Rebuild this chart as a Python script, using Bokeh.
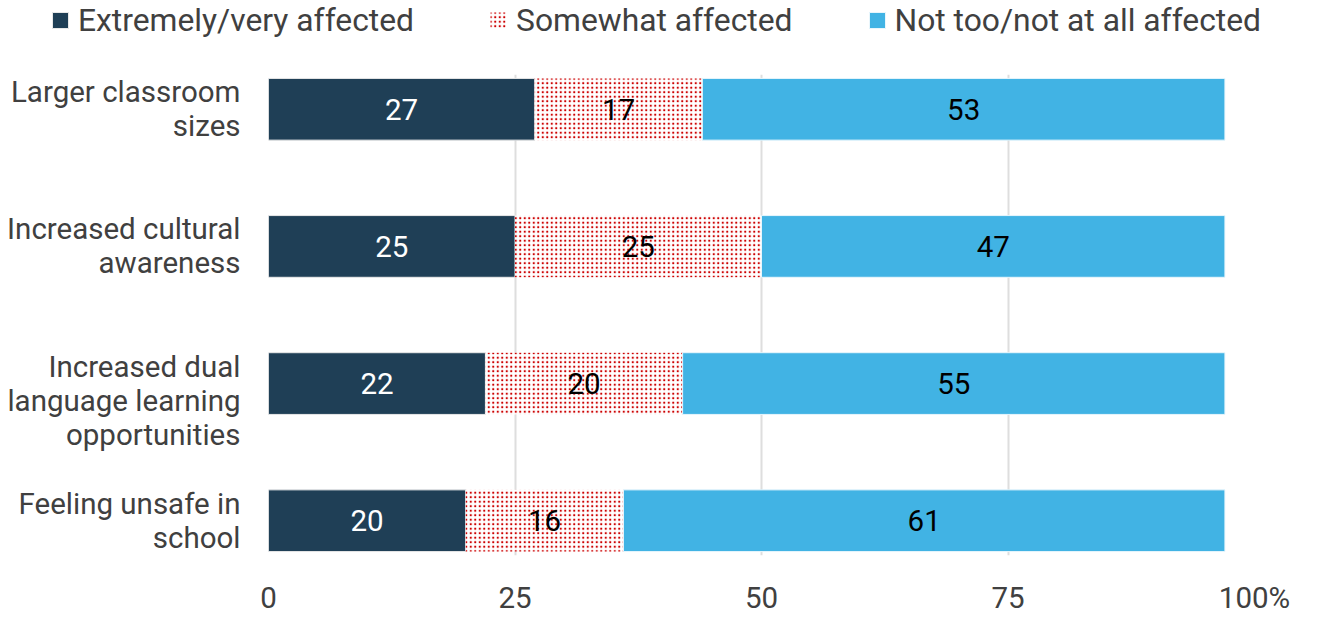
from bokeh.plotting import figure
from bokeh.models import Range1d, FixedTicker, Legend, LegendItem
from bokeh.core.properties import value
from bokeh.embed import file_html
from bokeh.resources import INLINE

categories = ["Larger classroom\nsizes", "Increased cultural\nawareness",
              "Increased dual\nlanguage learning\nopportunities", "Feeling unsafe in\nschool"]
extremely = [27, 25, 22, 20]
somewhat = [17, 25, 20, 16]
not_too = [53, 47, 55, 61]
series_names = ["Extremely/very affected", "Somewhat affected", "Not too/not at all affected"]
x_ticks = [0, 25, 50, 75, 100]
x_tick_labels = ["0", "25", "50", "75", "100%"]

FONT = "Roboto"
FS = "29.5px"
LFS = "31.8px"
DARK = "#1f3f56"
BLUE = "#41b3e4"
RED = "#cc0000"
GRAY = "#404040"

STYLES = [dict(fill_color=DARK, line_color="#e8e8e8", line_width=1),
          dict(fill_color="white", line_color=None, hatch_pattern="dot", hatch_color=RED,
               hatch_scale=4.5, hatch_weight=3),
          dict(fill_color=BLUE, line_color="#e8f6fc", line_width=1)]

n = len(categories)
ypos = [n - 1 - i for i in range(n)]

PAD = 0.2536
p = figure(width=1317, height=577, output_backend="svg", toolbar_location=None,
           x_range=Range1d(0, 100), y_range=Range1d(-PAD, n - 1 + PAD),
           min_border_left=268, min_border_top=34, min_border_right=63, min_border_bottom=56)
p.outline_line_color = None
p.background_fill_color = "white"

left1 = [0] * n
right1 = [a for a in extremely]
left2 = right1
right2 = [a + b for a, b in zip(extremely, somewhat)]
left3 = right2
right3 = [a + b + c for a, b, c in zip(extremely, somewhat, not_too)]

H = 0.45
p.hbar(y=ypos, left=left1, right=right1, height=H, **STYLES[0])
p.hbar(y=ypos, left=left2, right=right2, height=H, **STYLES[1])
p.hbar(y=ypos, left=left3, right=right3, height=H, **STYLES[2])

# data labels
lx, ly, lt, lc = [], [], [], []
for vals, ls, col in [(extremely, left1, "white"), (somewhat, left2, "black"), (not_too, left3, "black")]:
    for i in range(n):
        lx.append(ls[i] + vals[i] / 2)
        ly.append(ypos[i])
        lt.append(str(vals[i]))
        lc.append(col)
p.text(x=lx, y=ly, text=lt, text_color=lc, text_font=value(FONT), text_font_size=FS,
       text_align="center", text_baseline="middle")

# axes
p.xaxis.ticker = FixedTicker(ticks=x_ticks)
p.xaxis.major_label_overrides = {t: l for t, l in zip(x_ticks, x_tick_labels)}
p.xaxis.axis_line_color = None
p.xaxis.major_tick_line_color = None
p.xaxis.minor_tick_line_color = None
p.xaxis.major_tick_out = 0
p.xaxis.major_label_standoff = 25
p.xaxis.major_label_text_font = FONT
p.xaxis.major_label_text_font_size = FS
p.xaxis.major_label_text_color = GRAY
p.xaxis.major_label_text_line_height = 1.0

ylabels = {}
for i, c in enumerate(categories):
    lab = c
    if c.count("\n") == 2:
        lab = "\n" + c
    ylabels[ypos[i]] = lab
p.yaxis.ticker = FixedTicker(ticks=ypos)
p.yaxis.major_label_overrides = ylabels
p.yaxis.axis_line_color = None
p.yaxis.major_tick_line_color = None
p.yaxis.minor_tick_line_color = None
p.yaxis.major_tick_out = 0
p.yaxis.major_label_standoff = 28
p.yaxis.major_label_text_font = FONT
p.yaxis.major_label_text_font_size = FS
p.yaxis.major_label_text_color = GRAY
p.yaxis.major_label_text_align = "right"
p.yaxis.major_label_text_line_height = 1.0

p.xgrid.grid_line_color = "#dedede"
p.xgrid.grid_line_width = 2
p.ygrid.grid_line_color = None

# legend strip above the chart (separate root, so its frame is not aligned to the chart)
lg = figure(width=1317, height=40, output_backend="svg", toolbar_location=None,
            x_range=Range1d(0, 1), y_range=Range1d(0, 1), x_axis_type=None, y_axis_type=None,
            min_border_left=50, min_border_top=0, min_border_right=0, min_border_bottom=0)
lg.outline_line_color = None
lg.grid.visible = False
nan = float("nan")
lrs = [lg.hbar(y=[nan], left=[nan], right=[nan], height=1, **st) for st in STYLES]
legend = Legend(items=[LegendItem(label=nm, renderers=[r]) for nm, r in zip(series_names, lrs)],
                orientation="horizontal", location="left",
                glyph_width=20, glyph_height=20, label_standoff=8, spacing=74,
                padding=0, margin=0, border_line_color=None, background_fill_alpha=0,
                label_text_font=FONT, label_text_font_size=LFS, label_text_color=GRAY)
lg.add_layout(legend)

open("out.html", "w").write(file_html([lg, p], INLINE))
